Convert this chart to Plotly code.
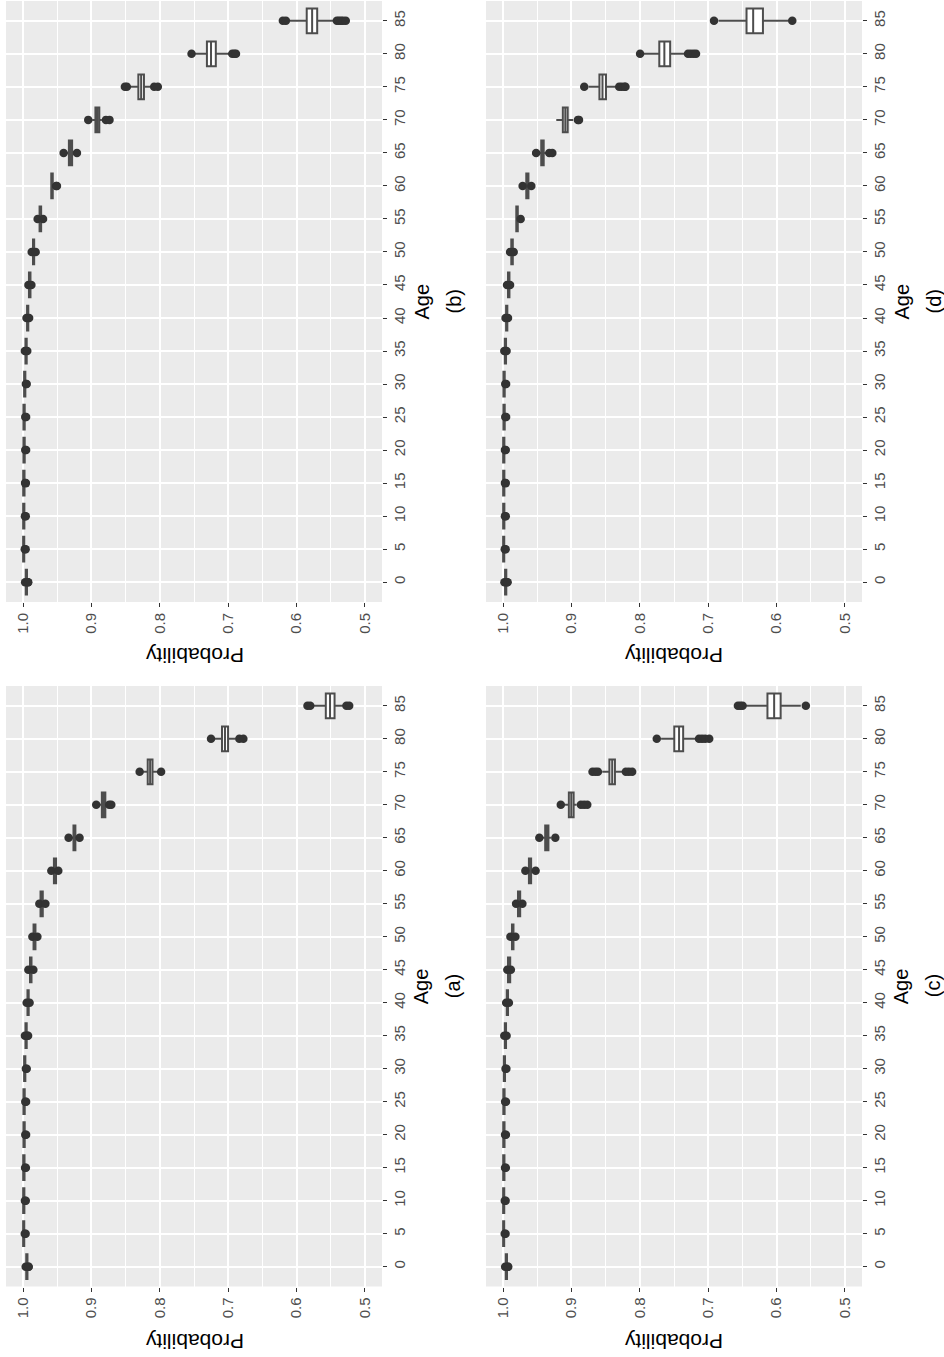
import plotly.graph_objects as go

# ---------------- data ----------------
ages = [0, 5, 10, 15, 20, 25, 30, 35, 40, 45, 50, 55, 60, 65, 70, 75, 80, 85]
age_labels = ["0", "5", "10", "15", "20", "25", "30", "35", "40", "45",
              "50", "55", "60", "65", "70", "75", "80", "85"]
prob_ticks = [1.0, 0.9, 0.8, 0.7, 0.6, 0.5]
prob_tick_text = ["1.0", "0.9", "0.8", "0.7", "0.6", "0.5"]
prob_minor = [0.95, 0.85, 0.75, 0.65, 0.55]

# panel (a)
med_a = [0.9945, 0.9992, 0.9990, 0.9988, 0.9985, 0.9985, 0.9976, 0.9956, 0.9927, 0.9888, 0.9833, 0.9729, 0.9533, 0.9250, 0.8820, 0.8142, 0.7047, 0.5510]
q3_a = [0.9954, 0.99995, 0.9999, 0.99985, 0.9995, 0.9995, 0.9985, 0.9965, 0.9936, 0.9899, 0.9847, 0.9745, 0.9549, 0.9263, 0.8848, 0.8177, 0.7090, 0.5572]
q1_a = [0.9936, 0.9983, 0.9981, 0.9979, 0.9976, 0.9976, 0.9967, 0.9947, 0.9918, 0.9877, 0.9819, 0.9712, 0.9517, 0.9235, 0.8797, 0.8107, 0.7002, 0.5444]
hi_a = [0.9960, 0.99998, 0.99995, 0.9999, 0.9998, 0.9998, 0.9990, 0.9970, 0.9942, 0.9908, 0.9855, 0.9755, 0.9565, 0.9300, 0.8900, 0.8244, 0.7210, 0.5760]
lo_a = [0.9930, 0.9978, 0.9976, 0.9974, 0.9971, 0.9971, 0.9962, 0.9942, 0.9912, 0.9865, 0.9805, 0.9695, 0.9500, 0.9200, 0.8784, 0.8039, 0.6890, 0.5310]
out_age_a = [0, 0, 0, 5, 5, 10, 10, 15, 15, 20, 20, 25, 25, 30, 30, 35, 35, 35, 40, 40,
             45, 45, 50, 50, 55, 55, 60, 60, 65, 65, 70, 70, 70, 75, 75, 80, 80, 80, 85, 85, 85, 85]
out_val_a = [0.9962, 0.9922, 0.9918, 0.9975, 0.9963, 0.9973, 0.9961, 0.9971, 0.9959, 0.9968, 0.9956,
             0.9968, 0.9956, 0.9959, 0.9947, 0.9973, 0.9939, 0.9927, 0.9948, 0.9905,
             0.9923, 0.9850, 0.9864, 0.9791, 0.9762, 0.9674, 0.9587, 0.9485, 0.9334, 0.9174,
             0.8930, 0.8740, 0.8710, 0.8295, 0.7981, 0.7251, 0.6837, 0.6778,
             0.5840, 0.5800, 0.5270, 0.5230]

# panel (b)
med_b = [0.9952, 0.9992, 0.9990, 0.9988, 0.9985, 0.9985, 0.9976, 0.9956, 0.9933, 0.9903, 0.9847, 0.9748, 0.9577, 0.9306, 0.8915, 0.8273, 0.7251, 0.5772]
q3_b = [0.9961, 0.99995, 0.9999, 0.99985, 0.9995, 0.9995, 0.9985, 0.9965, 0.9942, 0.9914, 0.9855, 0.9759, 0.9588, 0.9330, 0.8942, 0.8314, 0.7311, 0.5851]
q1_b = [0.9943, 0.9983, 0.9981, 0.9979, 0.9976, 0.9976, 0.9967, 0.9947, 0.9924, 0.9892, 0.9838, 0.9736, 0.9566, 0.9283, 0.8885, 0.8232, 0.7181, 0.5698]
hi_b = [0.9966, 0.99998, 0.99995, 0.9999, 0.9998, 0.9998, 0.9990, 0.9970, 0.9946, 0.9918, 0.9862, 0.9770, 0.9595, 0.9360, 0.8990, 0.8434, 0.7485, 0.6098]
lo_b = [0.9937, 0.9978, 0.9976, 0.9974, 0.9971, 0.9971, 0.9962, 0.9942, 0.9918, 0.9884, 0.9828, 0.9722, 0.9545, 0.9250, 0.8847, 0.8142, 0.6988, 0.5455]
out_age_b = [0, 0, 0, 5, 5, 10, 10, 15, 15, 20, 20, 25, 25, 30, 30, 35, 35, 40, 40,
             45, 45, 50, 50, 55, 55, 60, 60, 65, 65, 70, 70, 70, 75, 75, 75, 75,
             80, 80, 80, 80, 85, 85, 85, 85, 85, 85, 85]
out_val_b = [0.9970, 0.9930, 0.9925, 0.9975, 0.9963, 0.9973, 0.9961, 0.9971, 0.9959, 0.9968, 0.9956,
             0.9968, 0.9956, 0.9959, 0.9947, 0.9974, 0.9939, 0.9950, 0.9912,
             0.9922, 0.9879, 0.9874, 0.9816, 0.9787, 0.9708, 0.9517, 0.9505, 0.9407, 0.9212,
             0.9047, 0.8788, 0.8736, 0.8511, 0.8482, 0.8083, 0.8029,
             0.7536, 0.6940, 0.6910, 0.6886, 0.6200, 0.6156, 0.5410, 0.5380, 0.5350, 0.5320, 0.5280]

# panel (c)
med_c = [0.9952, 0.9993, 0.9992, 0.9989, 0.9988, 0.9987, 0.9981, 0.9966, 0.9937, 0.9912, 0.9859, 0.9766, 0.9606, 0.9360, 0.9003, 0.8404, 0.7426, 0.6035]
q3_c = [0.9961, 0.99995, 0.99995, 0.99985, 0.9998, 0.9997, 0.9990, 0.9975, 0.9946, 0.9928, 0.9870, 0.9782, 0.9622, 0.9384, 0.9038, 0.8445, 0.7496, 0.6133]
q1_c = [0.9943, 0.9984, 0.9983, 0.9980, 0.9979, 0.9978, 0.9972, 0.9957, 0.9928, 0.9896, 0.9848, 0.9750, 0.9590, 0.9337, 0.8968, 0.8364, 0.7366, 0.5940]
hi_c = [0.9966, 0.99998, 0.99998, 0.9999, 0.99985, 0.9998, 0.9994, 0.9980, 0.9951, 0.9932, 0.9880, 0.9795, 0.9645, 0.9420, 0.9105, 0.8550, 0.7689, 0.6448]
lo_c = [0.9937, 0.9979, 0.9978, 0.9975, 0.9974, 0.9973, 0.9967, 0.9952, 0.9922, 0.9892, 0.9830, 0.9735, 0.9560, 0.9300, 0.8923, 0.8258, 0.7178, 0.5645]
out_age_c = [0, 0, 0, 5, 5, 10, 10, 15, 15, 20, 20, 25, 25, 30, 30, 35, 35, 40, 40,
             45, 45, 50, 50, 55, 55, 60, 60, 65, 65, 70, 70, 70, 70,
             75, 75, 75, 75, 75, 75, 80, 80, 80, 80, 80, 85, 85, 85, 85]
out_val_c = [0.9970, 0.9930, 0.9925, 0.9976, 0.9964, 0.9975, 0.9963, 0.9972, 0.9960, 0.9971, 0.9959,
             0.9970, 0.9958, 0.9964, 0.9952, 0.9982, 0.9949, 0.9955, 0.9915,
             0.9938, 0.9886, 0.9893, 0.9820, 0.9810, 0.9718, 0.9674, 0.9524, 0.9470, 0.9236,
             0.9156, 0.8861, 0.8815, 0.8769,
             0.8692, 0.8650, 0.8613, 0.8204, 0.8160, 0.8112,
             0.7752, 0.7134, 0.7090, 0.7045, 0.6985, 0.6565, 0.6530, 0.6497, 0.5572]

# panel (d)
med_d = [0.9962, 0.9992, 0.9990, 0.9990, 0.9990, 0.9985, 0.9985, 0.9966, 0.9947, 0.9917, 0.9869, 0.9796, 0.9645, 0.9424, 0.9090, 0.8546, 0.7641, 0.6342]
q3_d = [0.9971, 0.99995, 0.9999, 0.9999, 0.9999, 0.9995, 0.9995, 0.9975, 0.9956, 0.9928, 0.9880, 0.9807, 0.9661, 0.9442, 0.9126, 0.8591, 0.7715, 0.6439]
q1_d = [0.9953, 0.9983, 0.9981, 0.9981, 0.9981, 0.9976, 0.9976, 0.9957, 0.9938, 0.9907, 0.9858, 0.9785, 0.9629, 0.9406, 0.9055, 0.8495, 0.7556, 0.6199]
hi_d = [0.9976, 0.99998, 0.99995, 0.99995, 0.99995, 0.9998, 0.9998, 0.9980, 0.9961, 0.9934, 0.9888, 0.9815, 0.9680, 0.9470, 0.9222, 0.8750, 0.7945, 0.6850]
lo_d = [0.9947, 0.9978, 0.9976, 0.9976, 0.9976, 0.9971, 0.9971, 0.9952, 0.9932, 0.9905, 0.9852, 0.9770, 0.9610, 0.9370, 0.8974, 0.8360, 0.7346, 0.5820]
out_age_d = [0, 0, 0, 5, 5, 10, 10, 15, 15, 20, 20, 25, 25, 30, 30, 35, 35, 40, 40,
             45, 45, 50, 50, 55, 60, 60, 65, 65, 65, 70, 70,
             75, 75, 75, 75, 75, 80, 80, 80, 80, 80, 85, 85]
out_val_d = [0.9980, 0.9940, 0.9935, 0.9975, 0.9963, 0.9973, 0.9961, 0.9973, 0.9961, 0.9973, 0.9961,
             0.9968, 0.9956, 0.9968, 0.9956, 0.9982, 0.9949, 0.9964, 0.9928,
             0.9942, 0.9898, 0.9898, 0.9845, 0.9743, 0.9714, 0.9587, 0.9517, 0.9324, 0.9280,
             0.8905, 0.8890, 0.8813, 0.8302, 0.8265, 0.8224, 0.8210,
             0.7996, 0.7295, 0.7255, 0.7215, 0.7178, 0.6915, 0.5770]

# ---------------- layout geometry ----------------
W, H = 944, 1357
LX = [6 / W, 382 / W]
RX = [486 / W, 862 / W]
TY = [1 - 602 / H, 1 - 1 / H]
BY = [1 - 1286.5 / H, 1 - 686 / H]

FONT = "Liberation Sans, Arial, Helvetica, sans-serif"
BOX_LINE = "#4D4D4D"
PT_COLOR = "#333333"

panels = [
    # label, axis suffix, x domain, y domain, data
    ("b", "", LX, TY, med_b, q1_b, q3_b, lo_b, hi_b, out_age_b, out_val_b),
    ("d", "2", RX, TY, med_d, q1_d, q3_d, lo_d, hi_d, out_age_d, out_val_d),
    ("a", "3", LX, BY, med_a, q1_a, q3_a, lo_a, hi_a, out_age_a, out_val_a),
    ("c", "4", RX, BY, med_c, q1_c, q3_c, lo_c, hi_c, out_age_c, out_val_c),
]

fig = go.Figure()
layout = dict(
    width=W, height=H,
    margin=dict(l=0, r=0, t=0, b=0),
    paper_bgcolor="white",
    plot_bgcolor="#EBEBEB",
    showlegend=False,
    font=dict(family=FONT),
)
annotations = []

for lab, sfx, xd, yd, med, q1, q3, lo, hi, oage, oval in panels:
    xname = "x" + sfx
    yname = "y" + sfx
    fig.add_trace(go.Box(
        y=age_labels, q1=q1, median=med, q3=q3,
        lowerfence=lo, upperfence=hi,
        orientation="h", boxpoints=False,
        fillcolor="white",
        line=dict(color=BOX_LINE, width=2.0),
        whiskerwidth=0, width=0.75,
        xaxis=xname, yaxis=yname, hoverinfo="skip",
    ))
    fig.add_trace(go.Scatter(
        x=oval, y=[str(a) for a in oage], mode="markers",
        marker=dict(size=8.5, color=PT_COLOR, line=dict(width=0)),
        xaxis=xname, yaxis=yname, hoverinfo="skip",
    ))
    layout["xaxis" + sfx] = dict(
        domain=xd, anchor=yname,
        range=[1.025, 0.475],
        tickmode="array", tickvals=prob_ticks, ticktext=prob_tick_text,
        tickangle=-90,
        ticks="outside", ticklen=4, tickwidth=1.4, tickcolor="#333333",
        tickfont=dict(family=FONT, size=15, color="#4D4D4D"),
        showgrid=True, gridcolor="white", gridwidth=1.8,
        minor=dict(tickmode="array", tickvals=prob_minor, showgrid=True,
                   gridcolor="white", gridwidth=0.9, ticks=""),
        zeroline=False, showline=False, fixedrange=True,
    )
    layout["yaxis" + sfx] = dict(
        domain=yd, anchor=xname, side="right",
        type="category", categoryorder="array", categoryarray=age_labels,
        range=[-0.6, 17.6],
        tickangle=-90,
        ticks="outside", ticklen=4, tickwidth=1.4, tickcolor="#333333",
        tickfont=dict(family=FONT, size=15, color="#4D4D4D"),
        showgrid=True, gridcolor="white", gridwidth=1.8,
        zeroline=False, showline=False, fixedrange=True,
    )
    cx = (xd[0] + xd[1]) / 2
    cy = (yd[0] + yd[1]) / 2
    prob_y = (1 - 656 / H) if yd is TY else (1 - 1342 / H)
    annotations.append(dict(
        text="Probability", x=cx, y=prob_y, xref="paper", yref="paper",
        showarrow=False, textangle=180, xanchor="center", yanchor="middle",
        font=dict(family=FONT, size=21, color="black"),
    ))
    age_x = (421 / W) if xd is LX else (901 / W)
    lab_x = (453 / W) if xd is LX else (933 / W)
    annotations.append(dict(
        text="Age", x=age_x, y=cy, xref="paper", yref="paper",
        showarrow=False, textangle=-90, xanchor="center", yanchor="middle",
        font=dict(family=FONT, size=20, color="black"),
    ))
    annotations.append(dict(
        text="(" + lab + ")", x=lab_x, y=cy, xref="paper", yref="paper",
        showarrow=False, textangle=-90, xanchor="center", yanchor="middle",
        font=dict(family=FONT, size=20, color="black"),
    ))

layout["annotations"] = annotations
fig.update_layout(**layout)
fig.write_html(
    "out.html",
    config={"displayModeBar": False},
    post_script="document.body.style.margin='0';document.body.style.overflow='hidden';",
)
